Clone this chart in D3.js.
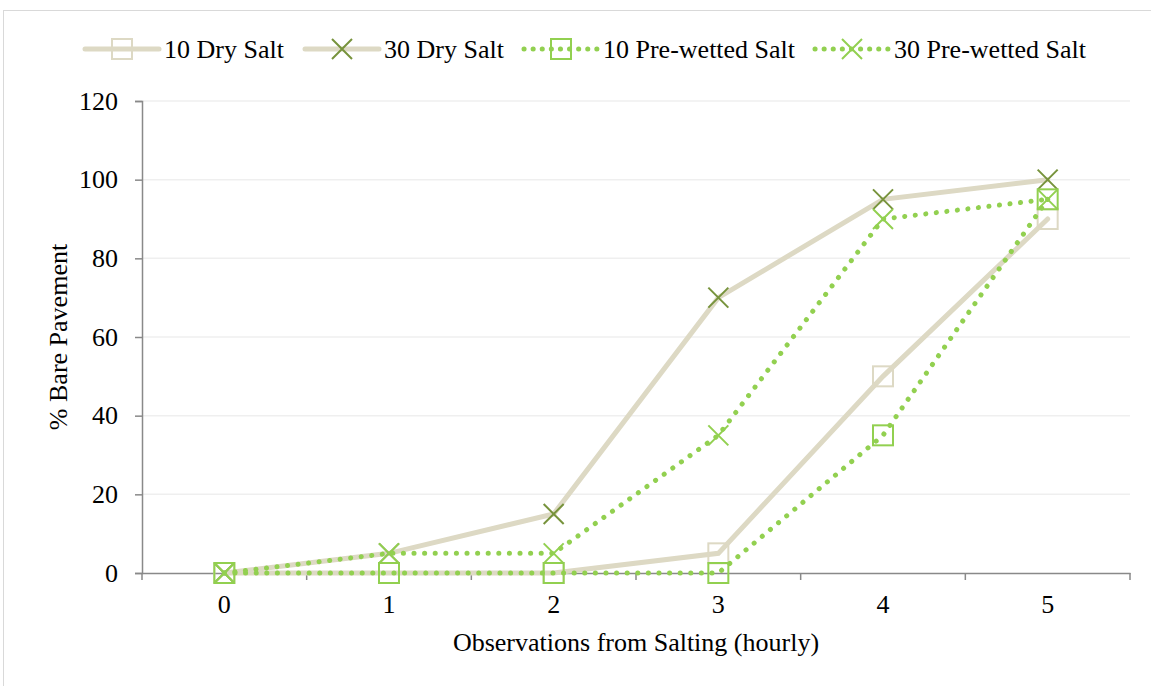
<!DOCTYPE html>
<html>
<head>
<meta charset="utf-8">
<script src="https://cdn.jsdelivr.net/npm/d3@7"></script>
<style>
  body { margin: 0; background: #fff; }
  text { font-family: "Liberation Serif", "Times New Roman", serif; fill: #000; }
</style>
</head>
<body>
<div id="chart"></div>
<script>
const hours = ["0", "1", "2", "3", "4", "5"];
const dry10 = [0, 0, 0, 5, 50, 90];
const dry30 = [0, 5, 15, 70, 95, 100];
const wet10 = [0, 0, 0, 0, 35, 95];
const wet30 = [0, 5, 5, 35, 90, 95];
const yTicks = [0, 20, 40, 60, 80, 100, 120];

const W = 1151, H = 686;
const margin = { top: 101, right: 21, bottom: 113, left: 142 },
      width = W - margin.left - margin.right,
      height = H - margin.top - margin.bottom;
const fs = "26px";

const series = [
  { name: "10 Dry Salt", values: dry10, line: "#ddd9c4", dash: null, lw: 5, marker: "square", mc: "#ddd9c4" },
  { name: "30 Dry Salt", values: dry30, line: "#ddd9c4", dash: null, lw: 5, marker: "x", mc: "#77933c" },
  { name: "10 Pre-wetted Salt", values: wet10, line: "#92d050", dash: "0.1 10.5", lw: 5, marker: "square", mc: "#92d050" },
  { name: "30 Pre-wetted Salt", values: wet30, line: "#92d050", dash: "0.1 10.5", lw: 5, marker: "x", mc: "#92d050" }
];

const root = d3.select("#chart").append("svg")
  .attr("width", W).attr("height", H);

// outer border
root.append("rect")
  .attr("x", 3.5).attr("y", 10.5)
  .attr("width", W).attr("height", H)
  .attr("fill", "none").attr("stroke", "#d9d9d9");

const svg = root.append("g")
  .attr("transform", `translate(${margin.left},${margin.top})`);

const x = d3.scaleBand().domain(hours).range([0, width]);
const y = d3.scaleLinear().domain([0, 120]).range([height, 0]);

// gridlines
svg.selectAll("line.grid")
  .data(yTicks.filter(d => d > 0))
  .join("line")
  .attr("class", "grid")
  .attr("x1", 0).attr("x2", width)
  .attr("y1", d => y(d)).attr("y2", d => y(d))
  .attr("stroke", "#efefef").attr("stroke-width", 1.5);

// y axis
const yAxis = svg.append("g")
  .call(d3.axisLeft(y).tickValues(yTicks).tickSize(7).tickPadding(17));
yAxis.select(".domain").attr("stroke", "#898989").attr("stroke-width", 1.5);
yAxis.selectAll(".tick line").attr("stroke", "#898989").attr("stroke-width", 1.5);
yAxis.selectAll("text").style("font-size", fs);

// x axis
const xAxis = svg.append("g")
  .attr("transform", `translate(0,${height})`)
  .call(d3.axisBottom(x).tickSize(0).tickPadding(22));
xAxis.select(".domain").attr("stroke", "#898989").attr("stroke-width", 1.5);
xAxis.selectAll("text").style("font-size", fs);
xAxis.selectAll("line.sep")
  .data(d3.range(hours.length + 1))
  .join("line")
  .attr("class", "sep")
  .attr("x1", i => i * x.step()).attr("x2", i => i * x.step())
  .attr("y1", 0).attr("y2", 7)
  .attr("stroke", "#898989").attr("stroke-width", 1.5);

// axis titles
svg.append("text")
  .attr("transform", "rotate(-90)")
  .attr("x", -height / 2)
  .attr("y", -75)
  .attr("text-anchor", "middle")
  .style("font-size", fs)
  .text("% Bare Pavement");

svg.append("text")
  .attr("x", width / 2)
  .attr("y", height + 78)
  .attr("text-anchor", "middle")
  .style("font-size", fs)
  .text("Observations from Salting (hourly)");

const cx = i => x(hours[i]) + x.bandwidth() / 2;

function drawMarker(g, type, color, px, py) {
  const s = 10;
  if (type === "square") {
    g.append("rect")
      .attr("x", px - s).attr("y", py - s)
      .attr("width", 2 * s).attr("height", 2 * s)
      .attr("fill", "none").attr("stroke", color).attr("stroke-width", 2);
  } else {
    g.append("path")
      .attr("d", `M${px - s},${py - s}L${px + s},${py + s}M${px - s},${py + s}L${px + s},${py - s}`)
      .attr("fill", "none").attr("stroke", color).attr("stroke-width", 2);
  }
}

const line = d3.line()
  .x((d, i) => cx(i))
  .y(d => y(d));

series.forEach(s => {
  const g = svg.append("g");
  g.append("path")
    .datum(s.values)
    .attr("d", line)
    .attr("fill", "none")
    .attr("stroke", s.line)
    .attr("stroke-width", s.lw)
    .attr("stroke-linecap", "round")
    .attr("stroke-dasharray", s.dash);
  s.values.forEach((v, i) => drawMarker(g, s.marker, s.mc, cx(i), y(v)));
});

// legend
const legendX = [85, 305, 524, 815];
const legend = root.append("g");
series.forEach((s, i) => {
  const g = legend.append("g").attr("transform", `translate(${legendX[i]},49)`);
  g.append("line")
    .attr("x1", 0).attr("x2", 74)
    .attr("y1", 0).attr("y2", 0)
    .attr("stroke", s.line).attr("stroke-width", s.lw)
    .attr("stroke-linecap", "round")
    .attr("stroke-dasharray", s.dash ? "0.1 9" : null);
  drawMarker(g, s.marker, s.mc, 37, 0);
  g.append("text")
    .attr("x", 79).attr("y", 0).attr("dy", "0.35em")
    .style("font-size", fs)
    .text(s.name);
});
</script>
</body>
</html>
